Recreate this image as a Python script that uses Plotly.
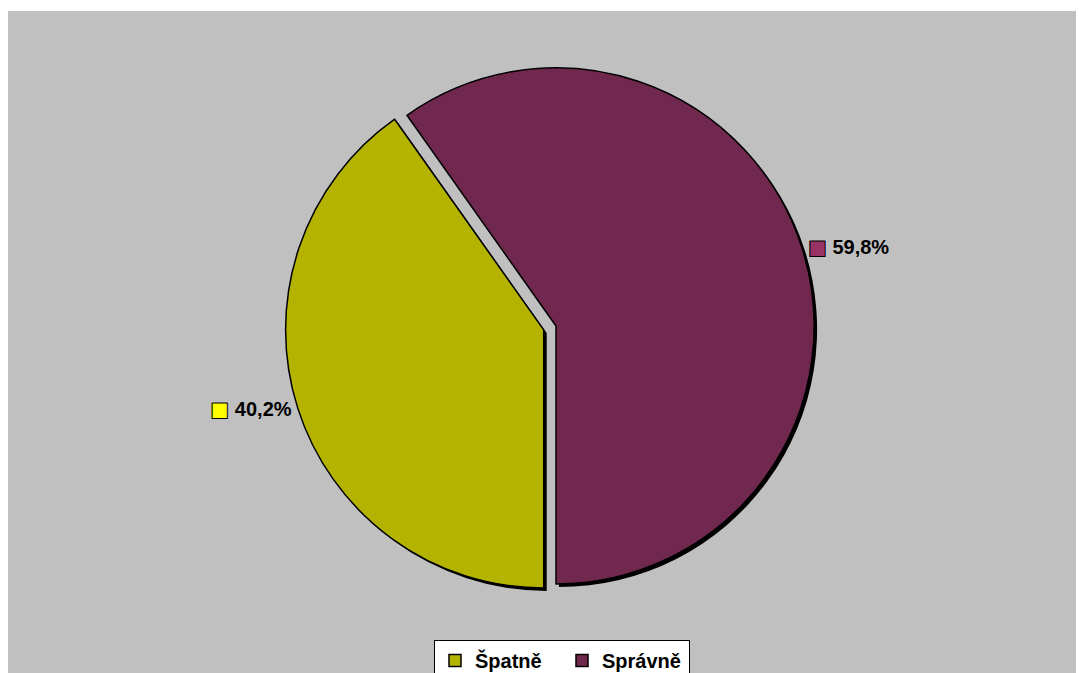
import plotly.graph_objects as go

# Answer shares (percent)
labels = ["Špatně", "Správně"]
values = [40.2, 59.8]
colors = ["#B4B400", "#70284F"]
key_colors = ["#FFFF00", "#993366"]
pulls = [0.05, 0.0]

W, H = 1079, 673

# Pie box (pixels): centre and half-size incl. pull allowance
cx, cy, half = 556, 326, 271


def dom(dx=0, dy=0):
    return dict(
        x=[(cx - half + dx) / W, (cx + half + dx) / W],
        y=[(H - cy - half - dy) / H, (H - cy + half - dy) / H],
    )


label_text = [
    '<span style="color:%s;stroke:#000000;stroke-width:1px;font-family:DejaVu Sans;font-size:20px">■</span> %s'
    % (kc, "%{percent:.1%}")
    for kc in key_colors
]

fig = go.Figure()

# drop shadow
fig.add_trace(go.Pie(
    labels=labels, values=values, sort=False, direction="clockwise", rotation=180,
    pull=pulls, domain=dom(3, 3), textinfo="none", showlegend=False, hoverinfo="skip",
    marker=dict(colors=["#000000", "#000000"], line=dict(width=0)),
))

# main pie
fig.add_trace(go.Pie(
    labels=labels, values=values, sort=False, direction="clockwise", rotation=180,
    pull=pulls, domain=dom(),
    marker=dict(colors=colors, line=dict(color="#000000", width=1.5)),
    texttemplate=label_text, textposition="outside",
    textfont=dict(family="Liberation Sans", size=20, color="#000000", weight="bold"),
    outsidetextfont=dict(family="Liberation Sans", size=20, color="#000000", weight="bold"),
))

fig.update_layout(
    width=W, height=H,
    margin=dict(l=0, r=0, t=0, b=0, autoexpand=False),
    paper_bgcolor="#FFFFFF",
    separators=", ",
    showlegend=True,
    legend=dict(
        orientation="h", x=562 / W, xanchor="center", y=(H - 640) / H, yanchor="top",
        bgcolor="#FFFFFF", bordercolor="#000000", borderwidth=1,
        font=dict(family="Liberation Sans", size=20, color="#000000", weight="bold"),
        itemwidth=30, traceorder="normal", entrywidth=82,
    ),
    shapes=[dict(
        type="rect", xref="paper", yref="paper", layer="below",
        x0=8 / W, x1=1076 / W, y0=0, y1=(H - 11) / H,
        fillcolor="#C0C0C0", line=dict(width=0),
    )],
)

fig.write_html("out.html")
